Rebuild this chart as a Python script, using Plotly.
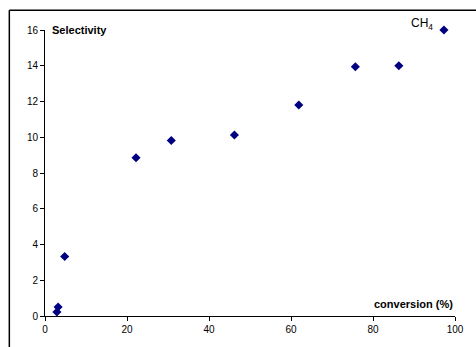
import plotly.graph_objects as go

conversion = [2.9, 3.2, 4.8, 22.2, 30.8, 46.2, 61.9, 75.7, 86.3, 97.3]
selectivity = [0.22, 0.5, 3.33, 8.85, 9.82, 10.13, 11.8, 13.94, 14.0, 16.0]
x_ticks = [0, 20, 40, 60, 80, 100]
y_ticks = [0, 2, 4, 6, 8, 10, 12, 14, 16]

fig = go.Figure()
fig.add_trace(go.Scatter(
    x=conversion, y=selectivity, mode="markers",
    marker=dict(symbol="diamond", size=7, color="#000080",
                line=dict(width=0)),
    cliponaxis=False, showlegend=False,
))

axis_font = dict(family="Arial, Liberation Sans, sans-serif", size=10, color="black")
fig.update_layout(
    width=476, height=347,
    margin=dict(l=45, r=17, t=30, b=29),
    paper_bgcolor="white", plot_bgcolor="white",
    font=axis_font,
    xaxis=dict(range=[0, 100], tickvals=x_ticks, showgrid=False, zeroline=False,
               showline=True, linecolor="black", linewidth=1,
               ticks="outside", ticklen=4, tickcolor="black", tickfont=axis_font),
    yaxis=dict(range=[0, 16], tickvals=y_ticks, showgrid=False, zeroline=False,
               showline=True, linecolor="black", linewidth=1,
               ticks="outside", ticklen=4, tickcolor="black", tickfont=axis_font),
    shapes=[
        dict(type="line", xref="paper", yref="paper", x0=-0.087, x1=-0.087,
             y0=1.0694, y1=-0.2, line=dict(color="black", width=1.5), layer="above"),
        dict(type="line", xref="paper", yref="paper", x0=-0.087, x1=1.1,
             y0=1.0694, y1=1.0694, line=dict(color="black", width=1.5), layer="above"),
    ],
    annotations=[
        dict(text="<b>Selectivity</b>", xref="paper", yref="paper",
             x=0.012, y=1.0, xanchor="left", yanchor="middle", showarrow=False,
             font=dict(family="Arial, Liberation Sans, sans-serif", size=11, color="black")),
        dict(text="<b>conversion (%)</b>", xref="paper", yref="paper",
             x=1.0, y=0.042, xanchor="right", yanchor="middle", showarrow=False,
             font=dict(family="Arial, Liberation Sans, sans-serif", size=11, color="black")),
        dict(text="CH<sub>4</sub>", xref="paper", yref="paper",
             x=0.92, y=1.02, xanchor="center", yanchor="middle", showarrow=False,
             font=dict(family="Arial, Liberation Sans, sans-serif", size=12, color="black")),
    ],
)

fig.write_html("out.html", config={"displayModeBar": False},
               post_script="document.body.style.margin='0';document.body.style.overflow='hidden';")
